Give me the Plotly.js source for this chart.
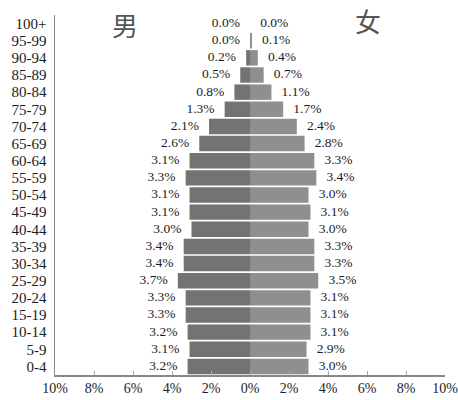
<!DOCTYPE html>
<html>
<head>
<meta charset="utf-8">
<script src="https://cdn.plot.ly/plotly-3.0.1.min.js"></script>
<style>html,body{margin:0;padding:0;background:#fff;}#chart{width:458px;height:400px;}</style>
</head>
<body>
<div id="chart"></div>
<script>
const ageGroups = ["0-4","5-9","10-14","15-19","20-24","25-29","30-34","35-39","40-44","45-49","50-54","55-59","60-64","65-69","70-74","75-79","80-84","85-89","90-94","95-99","100+"];
const maleValues = [3.2,3.1,3.2,3.3,3.3,3.7,3.4,3.4,3.0,3.1,3.1,3.3,3.1,2.6,2.1,1.3,0.8,0.5,0.2,0.0,0.0];
const femaleValues = [3.0,2.9,3.1,3.1,3.1,3.5,3.3,3.3,3.0,3.1,3.0,3.4,3.3,2.8,2.4,1.7,1.1,0.7,0.4,0.1,0.0];
const xTickVals = [-10,-8,-6,-4,-2,0,2,4,6,8,10];
const xTickText = ["10%","8%","6%","4%","2%","0%","2%","4%","6%","8%","10%"];

const serif = "Liberation Serif";
const sp = "\u00a0\u00a0\u00a0";
const male = {
  type: "bar", orientation: "h", y: ageGroups,
  x: maleValues.map(v => -v),
  marker: {color: "#737373", line: {width: 0}},
  hoverinfo: "none"
};
const female = {
  type: "bar", orientation: "h", y: ageGroups,
  x: femaleValues,
  marker: {color: "#8f8f8f", line: {width: 0}},
  hoverinfo: "none"
};
const maleLabels = {
  type: "scatter", mode: "text", y: ageGroups,
  x: maleValues.map(v => -v),
  text: maleValues.map(v => v.toFixed(1) + "%" + sp),
  textposition: "middle left", cliponaxis: false,
  textfont: {family: serif, size: 13.5, color: "#1c1c24"},
  hoverinfo: "none"
};
const femaleLabels = {
  type: "scatter", mode: "text", y: ageGroups,
  x: femaleValues,
  text: femaleValues.map(v => sp + v.toFixed(1) + "%"),
  textposition: "middle right", cliponaxis: false,
  textfont: {family: serif, size: 13.5, color: "#1c1c24"},
  hoverinfo: "none"
};
const layout = {
  width: 458, height: 400,
  margin: {l: 55, r: 13, t: 15, b: 25},
  barmode: "relative", bargap: 0.1,
  showlegend: false,
  paper_bgcolor: "#fff", plot_bgcolor: "#fff",
  xaxis: {
    range: [-10, 10], tickmode: "array", tickvals: xTickVals, ticktext: xTickText,
    showgrid: false, zeroline: false, showline: true, linecolor: "#888", linewidth: 1.5,
    ticks: "inside", ticklen: 4, tickcolor: "#aaa", ticklabeloverflow: "allow",
    tickfont: {family: serif, size: 14, color: "#1c1c24"}
  },
  yaxis: {
    type: "category", tickmode: "array", tickvals: ageGroups, ticktext: ageGroups,
    range: [-0.5, 20.5], autorange: false,
    showgrid: false, zeroline: false,
    showline: true, linecolor: "#888", linewidth: 1.5,
    ticks: "", tickfont: {family: serif, size: 15, color: "#1c1c24"}, ticklabelstandoff: 4
  },
  annotations: [
    {text: "男", xref: "paper", yref: "paper", x: 0.18, y: 0.975, xanchor: "center", yanchor: "middle", showarrow: false,
     font: {family: "Noto Sans CJK SC", size: 26, color: "#555"}},
    {text: "女", xref: "paper", yref: "paper", x: 0.803, y: 0.984, xanchor: "center", yanchor: "middle", showarrow: false,
     font: {family: "Noto Sans CJK SC", size: 26, color: "#555"}}
  ]
};
Plotly.newPlot("chart", [male, female, maleLabels, femaleLabels], layout, {displayModeBar: false, staticPlot: true});
</script>
</body>
</html>
